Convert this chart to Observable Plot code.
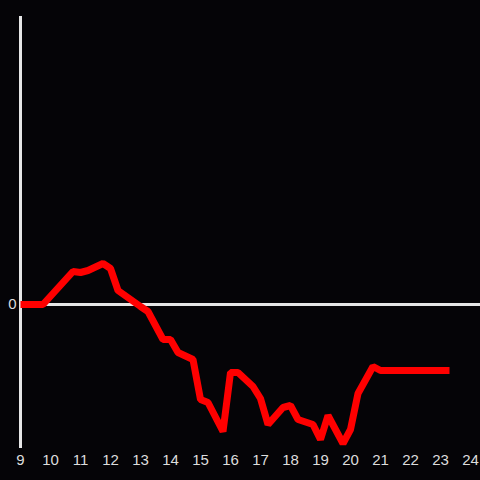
<!DOCTYPE html>
<html><head><meta charset="utf-8">
<script src="https://cdn.jsdelivr.net/npm/d3@7"></script>
<script src="https://cdn.jsdelivr.net/npm/@observablehq/plot@0.6"></script>
<style>html,body{margin:0;padding:0;background:#050407;}</style>
</head><body><div id="chart"></div>
<script>
const hours = [9.0, 9.75, 10.75, 11.0, 11.25, 11.75, 12.0, 12.25, 13.0, 13.25, 13.75, 14.0, 14.25, 14.75, 15.0, 15.25, 15.75, 16.0, 16.25, 16.75, 17.0, 17.25, 17.75, 18.0, 18.25, 18.75, 19.0, 19.25, 19.75, 20.0, 20.25, 20.75, 21.0, 23.3];
const values = [0, 0, 3.3, 3.2, 3.4, 4.1, 3.6, 1.4, -0.2, -0.7, -3.5, -3.5, -4.8, -5.5, -9.5, -9.8, -12.7, -6.8, -6.8, -8.2, -9.4, -12.0, -10.3, -10.1, -11.5, -12.0, -13.5, -11.1, -13.9, -12.5, -8.9, -6.2, -6.6, -6.6];
const xTicks = [9,10,11,12,13,14,15,16,17,18,19,20,21,22,23,24];
const yTicks = [0];
const data = hours.map((h, i) => ({h, v: values[i]}));
const axisColor = "#e6e6e6";
const chart = Plot.plot({
  width: 480, height: 480,
  marginLeft: 20, marginRight: 0, marginTop: 16, marginBottom: 32,
  style: {background: "#050407", color: "#dddddd", fontSize: "15px", fontFamily: "Liberation Sans, Arial, sans-serif"},
  x: {domain: [9, 24 + 1/3], ticks: xTicks, tickSize: 0, tickPadding: 6, label: null, tickFormat: d => String(d)},
  y: {domain: [-14.4, 28.8], ticks: yTicks, tickSize: 0, tickPadding: 4, label: null},
  marks: [
    Plot.ruleY([0], {stroke: axisColor, strokeWidth: 3}),
    Plot.ruleX([9], {y1: -14.4, y2: 28.8, stroke: axisColor, strokeWidth: 3}),
    Plot.line(data, {x: "h", y: "v", stroke: "#ff0000", strokeWidth: 7, strokeLinejoin: "miter", strokeLinecap: "butt"})
  ]
});
document.getElementById("chart").appendChild(chart);
</script>
</body></html>
